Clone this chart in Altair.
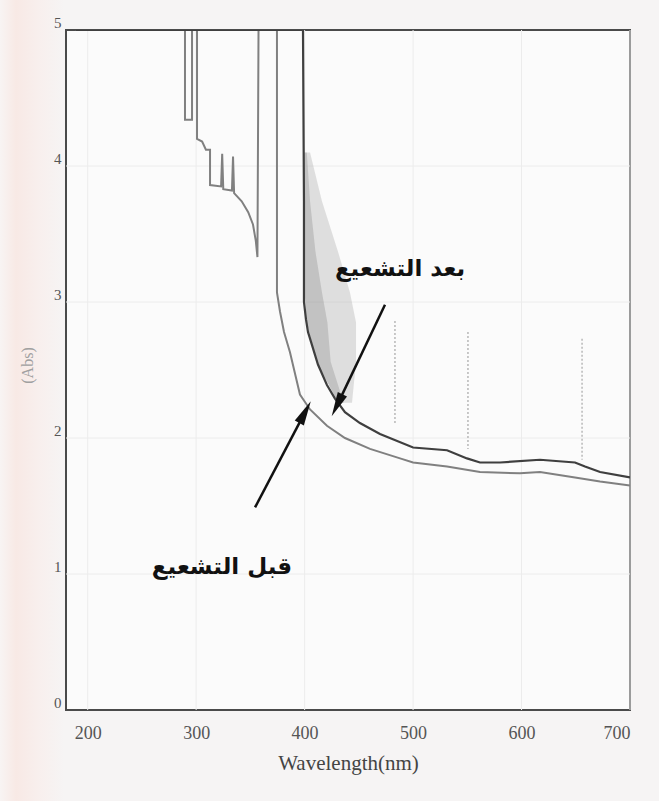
import altair as alt
import pandas as pd

# UV-Vis absorbance spectra before / after irradiation
before_wl = [189, 289.7, 289.7, 296.2, 296.2, 300.8, 300.8, 305.5, 309, 312.8, 312.8,
             323, 324, 325, 333, 334, 335, 342, 348, 352.4, 355, 356.5, 357.5, 374.5,
             374.5, 377.3, 381.0, 386.5, 395.7, 405.0, 420.6, 437.2, 460.3,
             488, 500, 531.3, 561.7, 598.6, 617, 649.3, 672.4, 700]
before_abs = [5.0, 5.0, 4.34, 4.34, 5.0, 5.0, 4.20, 4.18, 4.12, 4.12, 3.86,
              3.85, 4.09, 3.83, 3.82, 4.07, 3.80, 3.74, 3.66, 3.57, 3.45, 3.33, 5.0, 5.0,
              3.07, 2.93, 2.78, 2.63, 2.32, 2.21, 2.09, 2.00, 1.92,
              1.85, 1.82, 1.79, 1.75, 1.74, 1.75, 1.71, 1.68, 1.65]

after_wl = [189, 398.5, 399.4, 399.4, 401.3, 403.1, 412.3, 420.6, 428.0, 437.2, 451.0,
            469.5, 500, 531.3, 549.7, 561.7, 580.2, 617, 649.3, 658.5, 672.4, 700]
after_abs = [5.0, 5.0, 3.74, 3.00, 2.87, 2.78, 2.54, 2.39, 2.29, 2.19, 2.11,
             2.03, 1.93, 1.91, 1.85, 1.82, 1.82, 1.84, 1.82, 1.79, 1.75, 1.71]

# noisy scatter band just right of the "after" trace
band_abs = [4.10, 3.74, 3.37, 3.07, 2.85, 2.56, 2.26]
band_left = [399.4, 399.4, 399.6, 400.0, 402.0, 411.0, 431.0]
band_right = [405.0, 416.0, 430.8, 441.8, 447.4, 447.4, 443.7]
band_inner = [402.0, 405.0, 410.0, 416.0, 421.0, 424.0, 436.0]

# faint dotted noise traces
noise_wl = [483.3, 550.6, 655.8]
noise_top = [2.86, 2.78, 2.73]
noise_bottom = [2.10, 1.92, 1.84]

# annotation labels and arrows
label_text = ["بعد التشعيع", "قبل التشعيع"]
label_wl = [488, 323.8]
label_abs = [3.24, 1.05]
arrow_tail_wl = [474.1, 354.3]
arrow_tail_abs = [2.98, 1.49]
arrow_tip_wl = [429.9, 400.4]
arrow_tip_abs = [2.24, 2.19]
arrow_angle = [206, 28]

x_ticks = [200, 300, 400, 500, 600, 700]
y_ticks = [0, 1, 2, 3, 4, 5]

x_scale = alt.Scale(domain=[180, 700], nice=False, zero=False)
y_scale = alt.Scale(domain=[0, 5], nice=False)

before = pd.DataFrame({"wl": before_wl, "abs": before_abs, "i": range(len(before_wl))})
after = pd.DataFrame({"wl": after_wl, "abs": after_abs, "i": range(len(after_wl))})
band = pd.DataFrame({"abs": band_abs, "l": band_left, "r": band_right, "m": band_inner})
noise = pd.DataFrame({"wl": noise_wl, "t": noise_top, "b": noise_bottom})
labels = pd.DataFrame({"t": label_text, "wl": label_wl, "abs": label_abs})
arrows = pd.DataFrame({"wl": arrow_tail_wl, "abs": arrow_tail_abs,
                       "wl2": arrow_tip_wl, "abs2": arrow_tip_abs, "ang": arrow_angle})

x_axis = alt.Axis(values=x_ticks, format="d", title="Wavelength(nm)", grid=False,
                  domain=False, ticks=False, zindex=1,
                  labelFont="Liberation Serif", labelFontSize=18, labelColor="#555",
                  labelPadding=14, titleFont="Liberation Serif", titleFontSize=21,
                  titleFontWeight="normal", titleColor="#444", titlePadding=10)
y_axis = alt.Axis(values=y_ticks, format="d", title="(Abs)", grid=False,
                  domain=False, ticks=False, zindex=1,
                  labelFont="Liberation Serif", labelFontSize=15,
                  labelColor="#555", labelPadding=5, labelBaseline="bottom",
                  titleFont="Liberation Serif", titleFontSize=16, titleFontWeight="normal",
                  titleColor="#a0a0a0", titleX=-31, titleY=335)

# faint chart-paper grid
grid_x = alt.Chart(pd.DataFrame({"v": x_ticks})).mark_rule(color="#ececec", strokeWidth=1).encode(
    x=alt.X("v:Q", scale=x_scale, axis=x_axis)
)
grid_y = alt.Chart(pd.DataFrame({"v": y_ticks[1:-1]})).mark_rule(color="#ececec", strokeWidth=1).encode(
    y=alt.Y("v:Q", scale=y_scale, axis=y_axis)
)

# tinted page edge on the left
edge = alt.Chart(pd.DataFrame({"k": [0]})).mark_rect(
    color=alt.Gradient(gradient="linear", x1=0, x2=1, y1=0, y2=0,
                       stops=[alt.GradientStop(offset=0, color="#f8f4f3"),
                              alt.GradientStop(offset=0.25, color="#f8e9e5"),
                              alt.GradientStop(offset=0.6, color="#f8efed"),
                              alt.GradientStop(offset=1, color="#f6f4f4")])
).encode(x=alt.value(-66), x2=alt.value(-2), y=alt.value(-30), y2=alt.value(771))

band_outer = alt.Chart(band).mark_area(orient="horizontal", color="#a8a8a8", opacity=0.35).encode(
    y=alt.Y("abs:Q", scale=y_scale), x=alt.X("l:Q", scale=x_scale), x2="r:Q",
)
band_core = alt.Chart(band).mark_area(orient="horizontal", color="#808080", opacity=0.3).encode(
    y=alt.Y("abs:Q", scale=y_scale), x=alt.X("l:Q", scale=x_scale), x2="m:Q",
)
noise_rules = alt.Chart(noise).mark_rule(color="#b8b8b8", strokeDash=[2, 2], strokeWidth=1.5).encode(
    x=alt.X("wl:Q", scale=x_scale), y=alt.Y("t:Q", scale=y_scale), y2="b:Q",
)
line_before = alt.Chart(before).mark_line(color="#808080", strokeWidth=2, clip=True).encode(
    x=alt.X("wl:Q", scale=x_scale), y=alt.Y("abs:Q", scale=y_scale), order="i:Q",
)
line_after = alt.Chart(after).mark_line(color="#3f3f3f", strokeWidth=2.2, clip=True).encode(
    x=alt.X("wl:Q", scale=x_scale), y=alt.Y("abs:Q", scale=y_scale), order="i:Q",
)
arrow_shafts = alt.Chart(arrows).mark_rule(color="#111", strokeWidth=2.5).encode(
    x=alt.X("wl:Q", scale=x_scale), y=alt.Y("abs:Q", scale=y_scale), x2="wl2:Q", y2="abs2:Q",
)
arrow_heads = alt.Chart(arrows).mark_point(shape="M0,-1L0.42,1L-0.42,1Z", filled=True,
                                            color="#111", size=600, opacity=1).encode(
    x=alt.X("wl2:Q", scale=x_scale), y=alt.Y("abs2:Q", scale=y_scale),
    angle=alt.Angle("ang:Q", scale=None),
)
label_marks = alt.Chart(labels).mark_text(font="DejaVu Sans", fontSize=23, fontWeight="bold",
                                          color="#111").encode(
    x=alt.X("wl:Q", scale=x_scale), y=alt.Y("abs:Q", scale=y_scale), text="t:N",
)

chart = alt.layer(
    edge, grid_x, grid_y, band_outer, band_core, noise_rules, line_before, line_after,
    arrow_shafts, arrow_heads, label_marks,
).properties(
    width=564, height=680,
    autosize=alt.AutoSizeParams(type="none"),
    padding={"left": 66, "top": 30, "right": 29, "bottom": 91},
    background="#f6f4f4",
).configure_view(
    stroke="#4a4a4a", strokeWidth=2, fill="#fbfbfb",
)

chart.save("out.html", embed_options={"renderer": "svg", "actions": False})
